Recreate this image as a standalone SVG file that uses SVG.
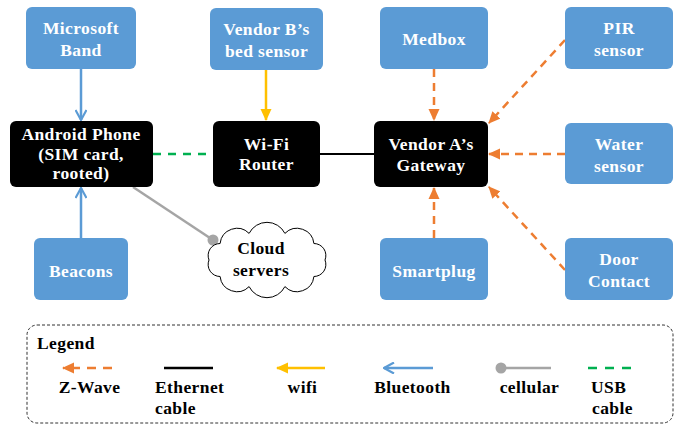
<svg xmlns="http://www.w3.org/2000/svg" width="681" height="426" viewBox="0 0 681 426">
<style>
text{font-family:"Liberation Serif","Times New Roman",serif;font-weight:bold;font-size:17.5px;letter-spacing:0.4px;text-anchor:middle}
.blue rect{fill:#5B9BD5}
.blue text,.dark text{fill:#fff}
.dark rect{fill:#000}
.lg text{fill:#000}
.bt{stroke:#5B9BD5;stroke-width:2.5;fill:none}
.zw{stroke:#ED7D31;stroke-width:2.5;fill:none;stroke-dasharray:8,6}
.wf{stroke:#FFC000;stroke-width:2.5;fill:none}
.usb{stroke:#00B050;stroke-width:2.5;fill:none;stroke-dasharray:8,7}
.eth{stroke:#000;stroke-width:2.2;fill:none}
.cell{stroke:#A5A5A5;stroke-width:2.5;fill:none}
</style>
<defs>
<marker id="open" viewBox="0 0 12 12" refX="11" refY="6" markerWidth="12" markerHeight="12" markerUnits="userSpaceOnUse" orient="auto">
<path d="M1,0.5 L11,6 L1,11.5" fill="none" stroke="#5B9BD5" stroke-width="2.2"/>
</marker>
<marker id="tri-o" viewBox="0 0 12 12" refX="11" refY="6" markerWidth="12" markerHeight="12" markerUnits="userSpaceOnUse" orient="auto">
<path d="M0,0.5 L12,6 L0,11.5 Z" fill="#ED7D31"/>
</marker>
<marker id="tri-y" viewBox="0 0 12 12" refX="11" refY="6" markerWidth="12" markerHeight="12" markerUnits="userSpaceOnUse" orient="auto">
<path d="M0,0.5 L12,6 L0,11.5 Z" fill="#FFC000"/>
</marker>
</defs>

<g id="connectors">
<line class="bt" x1="81" y1="69" x2="81" y2="120" marker-end="url(#open)"/>
<line class="bt" x1="81" y1="238" x2="81" y2="188" marker-end="url(#open)"/>
<line class="wf" x1="266" y1="70" x2="266" y2="120" marker-end="url(#tri-y)"/>
<line class="usb" x1="153" y1="154" x2="213" y2="154"/>
<line class="eth" x1="320" y1="154" x2="374" y2="154"/>
<line class="zw" x1="434" y1="69" x2="434" y2="120" marker-end="url(#tri-o)"/>
<line class="zw" x1="565" y1="40" x2="489" y2="123" marker-end="url(#tri-o)"/>
<line class="zw" x1="565" y1="154" x2="489" y2="154" marker-end="url(#tri-o)"/>
<line class="zw" x1="565" y1="270" x2="489" y2="187" marker-end="url(#tri-o)"/>
<line class="zw" x1="434" y1="238" x2="434" y2="188" marker-end="url(#tri-o)"/>
<line class="cell" x1="133" y1="187" x2="213" y2="240"/>
<circle cx="213" cy="240" r="5.5" fill="#A5A5A5"/>
</g>

<g id="microsoft-band" class="blue"><rect x="26" y="7" width="110" height="62" rx="6"/><text x="81" y="34">Microsoft</text><text x="81" y="56">Band</text></g>
<g id="bed-sensor" class="blue"><rect x="210" y="8" width="113" height="62" rx="6"/><text x="266.5" y="35">Vendor B’s</text><text x="266.5" y="57">bed sensor</text></g>
<g id="medbox" class="blue"><rect x="380" y="7" width="108" height="62" rx="6"/><text x="434" y="45">Medbox</text></g>
<g id="pir" class="blue"><rect x="565" y="7" width="108" height="62" rx="6"/><text x="619" y="34">PIR</text><text x="619" y="56">sensor</text></g>
<g id="phone" class="dark"><rect x="10" y="121" width="143" height="66" rx="6"/><text x="81" y="140">Android Phone</text><text x="81" y="160">(SIM card,</text><text x="81" y="179">rooted)</text></g>
<g id="router" class="dark"><rect x="213" y="121" width="107" height="66" rx="6"/><text x="266.5" y="150">Wi-Fi</text><text x="266.5" y="170">Router</text></g>
<g id="gateway" class="dark"><rect x="374" y="121" width="114" height="66" rx="6"/><text x="431" y="150">Vendor A’s</text><text x="431" y="171">Gateway</text></g>
<g id="water" class="blue"><rect x="565" y="123" width="108" height="61" rx="6"/><text x="619" y="150">Water</text><text x="619" y="172">sensor</text></g>
<g id="beacons" class="blue"><rect x="34" y="238" width="94" height="62" rx="6"/><text x="81" y="277">Beacons</text></g>
<g id="cloud">
<path d="M325,260 A12,12 0 0 1 313.9,276.5 A17,17 0 0 1 284.9,286.6 A20,20 0 0 1 249.1,286.6 A17,17 0 0 1 220.1,276.5 A12,12 0 0 1 209,260 A12,12 0 0 1 220.1,243.5 A17,17 0 0 1 249.1,233.4 A20,20 0 0 1 284.9,233.4 A17,17 0 0 1 313.9,243.5 A12,12 0 0 1 325,260 Z" fill="#fff" stroke="#000" stroke-width="1"/>
<text x="261" y="254" fill="#000">Cloud</text><text x="261" y="276" fill="#000">servers</text>
</g>
<g id="smartplug" class="blue"><rect x="380" y="238" width="108" height="62" rx="6"/><text x="434" y="277">Smartplug</text></g>
<g id="door" class="blue"><rect x="565" y="238" width="108" height="62" rx="6"/><text x="619" y="265">Door</text><text x="619" y="287">Contact</text></g>

<g id="legend" class="lg">
<rect x="27" y="325" width="646" height="98" rx="10" fill="none" stroke="#333" stroke-width="1" stroke-dasharray="3,2"/>
<text x="37" y="349" style="text-anchor:start">Legend</text>
<line class="zw" x1="112" y1="368" x2="63" y2="368" marker-end="url(#tri-o)" style="stroke-dasharray:9,7"/>
<text x="89.5" y="393">Z-Wave</text>
<line class="eth" x1="164" y1="368" x2="213" y2="368" style="stroke-width:2.5"/>
<text x="155" y="393" style="text-anchor:start">Ethernet</text>
<text x="155" y="414" style="text-anchor:start">cable</text>
<line class="wf" x1="325" y1="368" x2="277" y2="368" marker-end="url(#tri-y)"/>
<text x="302.5" y="393">wifi</text>
<line class="bt" x1="433" y1="368" x2="384" y2="368" marker-end="url(#open)"/>
<text x="412.5" y="393">Bluetooth</text>
<line class="cell" x1="501" y1="368" x2="551" y2="368"/>
<circle cx="501" cy="368" r="5.5" fill="#A5A5A5"/>
<text x="529.5" y="393">cellular</text>
<line class="usb" x1="588" y1="368" x2="635" y2="368" style="stroke-dasharray:9,8"/>
<text x="591" y="393" style="text-anchor:start">USB</text>
<text x="592" y="414" style="text-anchor:start">cable</text>
</g>
</svg>
